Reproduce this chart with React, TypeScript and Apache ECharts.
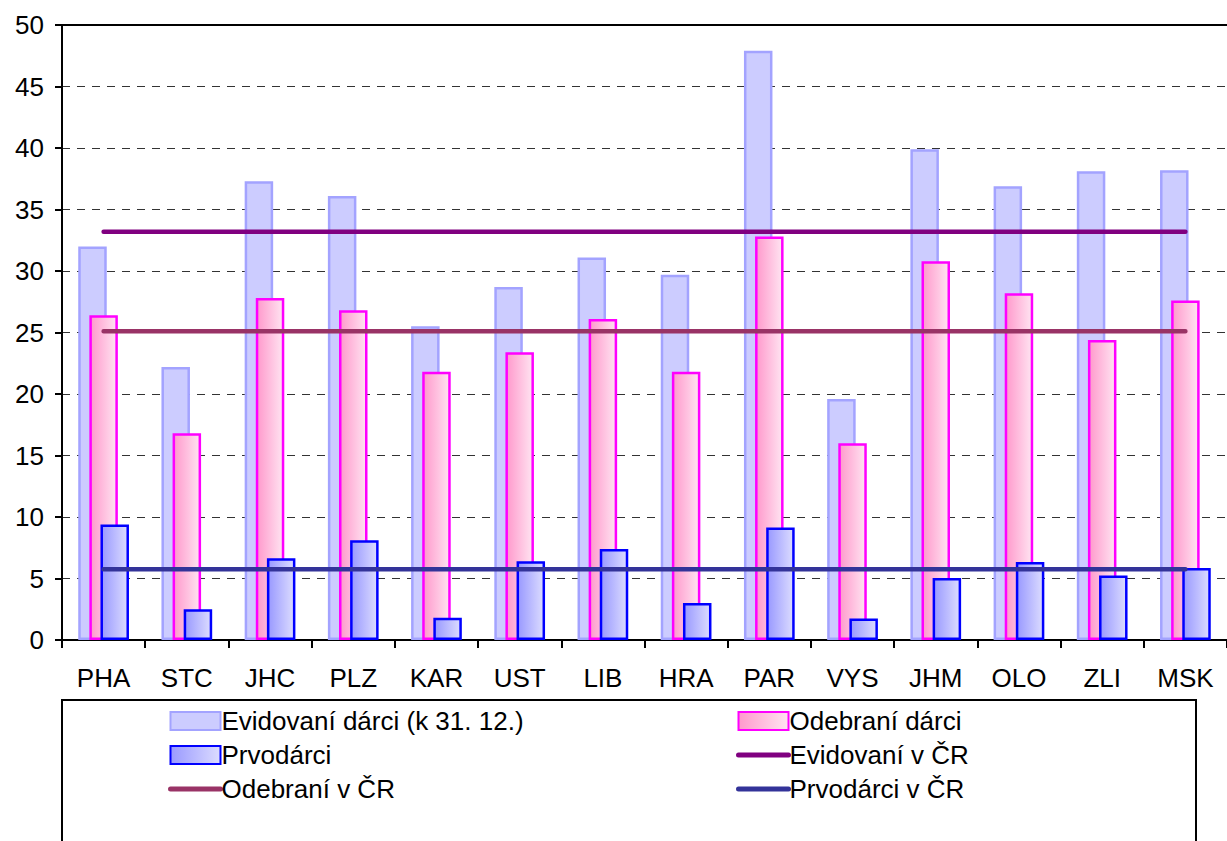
import React, { useEffect, useRef } from "react";
import * as echarts from "echarts";

const categories = ["PHA", "STC", "JHC", "PLZ", "KAR", "UST", "LIB", "HRA", "PAR", "VYS", "JHM", "OLO", "ZLI", "MSK"];
const evidovani = [32.0, 22.2, 37.3, 36.1, 25.5, 28.7, 31.1, 29.7, 47.9, 19.6, 39.9, 36.9, 38.1, 38.2];
const odebrani = [26.4, 16.8, 27.8, 26.8, 21.8, 23.4, 26.1, 21.8, 32.8, 16.0, 30.8, 28.2, 24.4, 27.6];
const prvodarci = [9.4, 2.5, 6.65, 8.1, 1.8, 6.4, 7.4, 3.0, 9.15, 1.75, 5.05, 6.35, 5.25, 5.85];
const evidovaniCR = [33.2, 33.2, 33.2, 33.2, 33.2, 33.2, 33.2, 33.2, 33.2, 33.2, 33.2, 33.2, 33.2, 33.2];
const odebraniCR = [25.1, 25.1, 25.1, 25.1, 25.1, 25.1, 25.1, 25.1, 25.1, 25.1, 25.1, 25.1, 25.1, 25.1];
const prvodarciCR = [5.75, 5.75, 5.75, 5.75, 5.75, 5.75, 5.75, 5.75, 5.75, 5.75, 5.75, 5.75, 5.75, 5.75];
const yTicks = { min: 0, max: 50, interval: 5 };

const FONT = "'Liberation Sans', Arial, sans-serif";

export default function App() {
  const ref = useRef<HTMLDivElement>(null);
  useEffect(() => {
    document.body.style.margin = "0";
    const chart = echarts.init(ref.current!, null, { renderer: "svg" });
    const grad = (a: string, b: string) =>
      new echarts.graphic.LinearGradient(0, 0, 1, 0, [
        { offset: 0, color: a },
        { offset: 1, color: b },
      ]);
    const barCommon = { type: "bar", barWidth: 28.5, barGap: "-61%" };
    const lineCommon = (color: string) => ({
      type: "line",
      symbol: "none",
      lineStyle: { color, width: 4.5, cap: "round" },
      itemStyle: { color },
      z: 5,
    });
    const textStyle = { fontFamily: FONT, fontSize: 26, color: "#000" };
    const lineLegend = (name: string) => ({
      name,
      itemStyle: { opacity: 0, color: "transparent", borderWidth: 0 },
      lineStyle: { width: 5, cap: "round" },
    });
    const legendCommon = {
      top: 703,
      orient: "vertical",
      itemWidth: 50,
      itemHeight: 18,
      itemGap: 8,
      textStyle: { ...textStyle, padding: [0, 0, 0, -4] },
    };
    chart.setOption({
      animation: false,
      textStyle: { fontFamily: FONT },
      grid: { left: 62, top: 25, width: 1170, height: 615 },
      xAxis: [
        {
          type: "category",
          data: categories,
          axisLine: { lineStyle: { color: "#000", width: 2 } },
          axisTick: { show: true, length: 8, lineStyle: { color: "#000", width: 2 } },
          axisLabel: { ...textStyle, margin: 25 },
        },
        {
          type: "category",
          data: categories,
          position: "top",
          axisLine: { show: true, lineStyle: { color: "#000", width: 2 } },
          axisTick: { show: false },
          axisLabel: { show: false },
        },
      ],
      yAxis: {
        type: "value",
        min: yTicks.min,
        max: yTicks.max,
        interval: yTicks.interval,
        axisLine: { show: true, lineStyle: { color: "#000", width: 2 } },
        axisTick: { show: true, length: 7, lineStyle: { color: "#000", width: 2 } },
        axisLabel: { ...textStyle, margin: 18 },
        splitLine: { lineStyle: { color: "#333", width: 1, type: [8, 7] } },
      },
      legend: [
        {
          ...legendCommon,
          left: 163,
          data: [
            { name: "Evidovaní dárci (k 31. 12.)", icon: "rect" },
            { name: "Prvodárci", icon: "rect" },
            lineLegend("Odebraní v ČR"),
          ],
        },
        {
          ...legendCommon,
          left: 731,
          data: [
            { name: "Odebraní dárci", icon: "rect" },
            lineLegend("Evidovaní v ČR"),
            lineLegend("Prvodárci v ČR"),
          ],
        },
      ],
      graphic: [
        {
          type: "rect",
          shape: { x: 62, y: 700, width: 1134, height: 170 },
          style: { fill: "none", stroke: "#000", lineWidth: 2 },
          silent: true,
        },
      ],
      series: [
        {
          ...barCommon,
          name: "Evidovaní dárci (k 31. 12.)",
          data: evidovani,
          itemStyle: { color: "#ccccff", borderColor: "#a3a3ff", borderWidth: 2.5 },
        },
        {
          ...barCommon,
          name: "Odebraní dárci",
          data: odebrani,
          itemStyle: { color: grad("#ff99cc", "#ffe4f1"), borderColor: "#ff00ff", borderWidth: 2.5 },
        },
        {
          ...barCommon,
          name: "Prvodárci",
          data: prvodarci,
          itemStyle: { color: grad("#9999ff", "#dcdcff"), borderColor: "#0000ff", borderWidth: 2.5 },
        },
        { ...lineCommon("#800080"), name: "Evidovaní v ČR", data: evidovaniCR },
        { ...lineCommon("#993366"), name: "Odebraní v ČR", data: odebraniCR },
        { ...lineCommon("#333399"), name: "Prvodárci v ČR", data: prvodarciCR },
      ],
    });
    return () => chart.dispose();
  }, []);
  return <div ref={ref} style={{ width: 1227, height: 841 }} />;
}
